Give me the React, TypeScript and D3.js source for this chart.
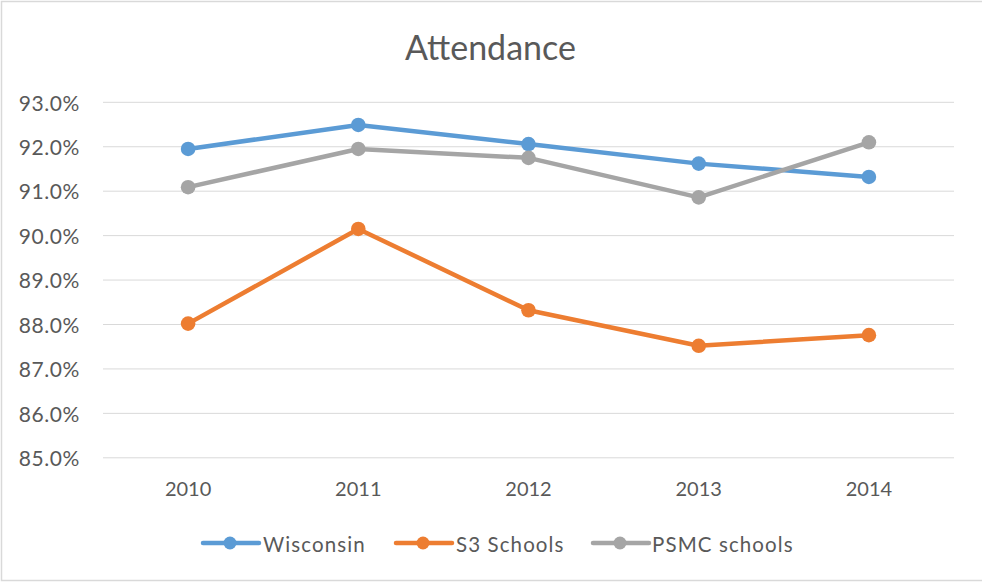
import React from "react";
import * as d3 from "d3";

const categories = ["2010", "2011", "2012", "2013", "2014"];
const wisconsin = [91.95, 92.49, 92.06, 91.62, 91.32];
const s3Schools = [88.02, 90.15, 88.32, 87.52, 87.76];
const psmcSchools = [91.09, 91.95, 91.75, 90.86, 92.1];
const yTicks = [85, 86, 87, 88, 89, 90, 91, 92, 93];
const seriesNames = ["Wisconsin", "S3 Schools", "PSMC schools"];
const seriesColors = ["#5B9BD5", "#ED7D31", "#A5A5A5"];

const W = 982;
const H = 583;
const FONT = "Lato, 'Open Sans', sans-serif";
const TEXT = "#595959";

export default function App() {
  const x = d3.scaleBand<string>().domain(categories).range([103, 954]);
  const y = d3.scaleLinear().domain([85, 93]).range([457.8, 102.3]);
  const cx = (c: string) => (x(c) as number) + x.bandwidth() / 2;
  const series = [wisconsin, s3Schools, psmcSchools];
  const line = d3
    .line<number>()
    .x((_, i) => cx(categories[i]))
    .y((v) => y(v));

  const legendItems = [
    { lx: 203, tx: 263 },
    { lx: 396, tx: 456 },
    { lx: 593, tx: 652 },
  ];

  return (
    <svg
      width={W}
      height={H}
      style={{ position: "absolute", left: 0, top: 0, background: "#fff" }}
      fontFamily={FONT}
    >
      <rect x={1.5} y={1.5} width={1100} height={579} fill="#fff" stroke="#d9d9d9" strokeWidth={1.5} />
      <text x={490.5} y={60} textAnchor="middle" fontSize={34} fill={TEXT}>
        Attendance
      </text>
      {yTicks.map((t) => (
        <g key={t}>
          <line x1={103} x2={954} y1={y(t)} y2={y(t)} stroke="#d9d9d9" strokeWidth={1} />
          <text x={80} y={y(t) + 8.2} textAnchor="end" fontSize={21} letterSpacing={0.6} fill={TEXT}>
            {t.toFixed(1) + "%"}
          </text>
        </g>
      ))}
      {categories.map((c) => (
        <text key={c} x={cx(c)} y={495.7} textAnchor="middle" fontSize={20} fill={TEXT}>
          {c}
        </text>
      ))}
      {series.map((s, si) => (
        <g key={si}>
          <path d={line(s) || ""} fill="none" stroke={seriesColors[si]} strokeWidth={4.5} strokeLinejoin="round" strokeLinecap="round" />
          {s.map((v, i) => (
            <circle key={i} cx={cx(categories[i])} cy={y(v)} r={7.3} fill={seriesColors[si]} />
          ))}
        </g>
      ))}
      {legendItems.map((it, i) => (
        <g key={i}>
          <line x1={it.lx} x2={it.lx + 56} y1={543} y2={543} stroke={seriesColors[i]} strokeWidth={4.5} strokeLinecap="round" />
          <circle cx={it.lx + 27} cy={543} r={6.5} fill={seriesColors[i]} />
          <text x={it.tx} y={551.5} fontSize={20.5} letterSpacing={1.1} fill={TEXT}>
            {seriesNames[i]}
          </text>
        </g>
      ))}
    </svg>
  );
}
